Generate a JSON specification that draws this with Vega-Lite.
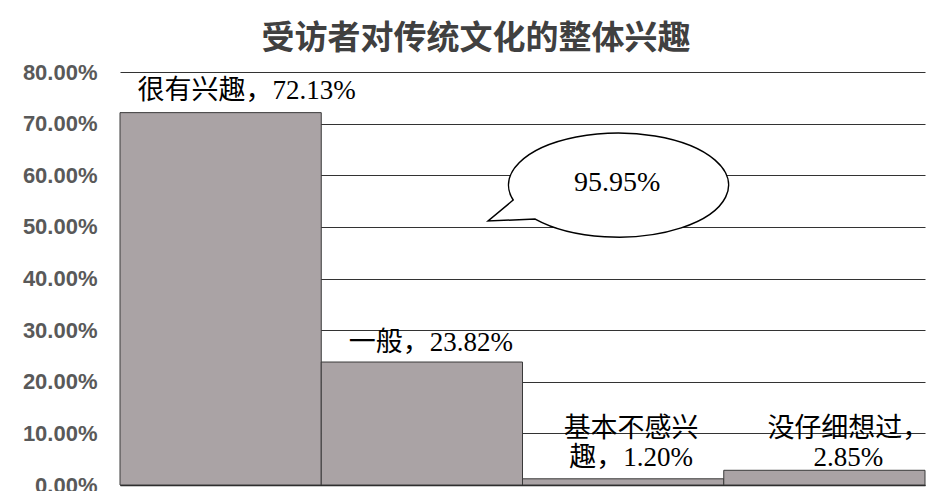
{
  "$schema": "https://vega.github.io/schema/vega-lite/v6.json",
  "width": 805,
  "height": 413,
  "autosize": "none",
  "padding": {"left": 120, "top": 72, "right": 6, "bottom": 6},
  "title": {
    "text": "受访者对传统文化的整体兴趣",
    "font": "Noto Sans CJK SC",
    "fontSize": 33,
    "fontWeight": "bold",
    "color": "#404040",
    "anchor": "middle",
    "frame": "bounds",
    "offset": 5
  },
  "config": {
    "view": {"stroke": null},
    "axisY": {
      "grid": true,
      "gridColor": "#333333",
      "gridWidth": 1,
      "domain": false,
      "ticks": false,
      "labelPadding": 23,
      "labelFont": "Liberation Sans",
      "labelFontWeight": "bold",
      "labelFontSize": 22,
      "labelColor": "#595959",
      "title": null
    },
    "axisX": {
      "labels": false,
      "ticks": false,
      "domain": true,
      "domainColor": "#222222",
      "domainWidth": 1.5,
      "title": null,
      "grid": false
    }
  },
  "data": {
    "values": [
      {"category": "很有兴趣", "value": 0.7213, "label": "很有兴趣，72.13%"},
      {"category": "一般", "value": 0.2382, "label": "一般，23.82%"},
      {"category": "基本不感兴趣", "value": 0.012, "label": "基本不感兴\n趣，1.20%"},
      {"category": "没仔细想过", "value": 0.0285, "label": "没仔细想过，\n2.85%"}
    ]
  },
  "encoding": {
    "x": {
      "field": "category",
      "type": "nominal",
      "sort": null,
      "scale": {"paddingInner": 0, "paddingOuter": 0}
    }
  },
  "layer": [
    {
      "mark": {"type": "bar", "fill": "#aaa3a5", "stroke": "#3a3a3a", "strokeWidth": 1},
      "encoding": {
        "y": {
          "field": "value",
          "type": "quantitative",
          "scale": {"domain": [0, 0.8]},
          "axis": {"values": [0, 0.1, 0.2, 0.3, 0.4, 0.5, 0.6, 0.7, 0.8], "format": ".2%"}
        }
      }
    },
    {
      "transform": [{"filter": "datum.category === '很有兴趣'"}],
      "mark": {"type": "text", "font": "'Liberation Serif', 'Noto Sans CJK SC'", "fontSize": 27, "color": "#000000", "baseline": "middle", "align": "center", "dx": 26, "dy": -22},
      "encoding": {
        "y": {"field": "value", "type": "quantitative"},
        "text": {"field": "label"}
      }
    },
    {
      "transform": [{"filter": "datum.category === '一般'"}],
      "mark": {"type": "text", "font": "'Liberation Serif', 'Noto Sans CJK SC'", "fontSize": 27, "color": "#000000", "baseline": "middle", "align": "center", "dx": 9, "dy": -19},
      "encoding": {
        "y": {"field": "value", "type": "quantitative"},
        "text": {"field": "label"}
      }
    },
    {
      "transform": [{"filter": "datum.category === '基本不感兴趣'"}],
      "mark": {"type": "text", "font": "'Liberation Serif', 'Noto Sans CJK SC'", "fontSize": 27, "color": "#000000", "baseline": "top", "align": "center", "lineBreak": "\n", "lineHeight": 29, "dx": 8},
      "encoding": {
        "y": {"datum": 0.134, "type": "quantitative"},
        "text": {"field": "label"}
      }
    },
    {
      "transform": [{"filter": "datum.category === '没仔细想过'"}],
      "mark": {"type": "text", "font": "'Liberation Serif', 'Noto Sans CJK SC'", "fontSize": 27, "color": "#000000", "baseline": "top", "align": "center", "lineBreak": "\n", "lineHeight": 29, "dx": 24},
      "encoding": {
        "y": {"datum": 0.134, "type": "quantitative"},
        "text": {"field": "label"}
      }
    },
    {
      "data": {"values": [{"category": "基本不感兴趣", "value": 0.581, "note": "95.95%"}]},
      "mark": {
        "type": "point",
        "shape": "M -0.945 0.136 L -1.173 0.327 L -0.745 0.309 A 1 0.473 0 1 0 -0.945 0.136 Z",
        "size": 48400,
        "filled": true,
        "fill": "#ffffff",
        "stroke": "#000000",
        "strokeWidth": 1.5,
        "opacity": 1,
        "xOffset": -6
      },
      "encoding": {
        "y": {"field": "value", "type": "quantitative"}
      }
    },
    {
      "data": {"values": [{"category": "基本不感兴趣", "value": 0.581, "note": "95.95%"}]},
      "mark": {"type": "text", "font": "'Liberation Serif'", "fontSize": 28, "color": "#000000", "baseline": "middle", "align": "center", "dx": -6, "dy": -2},
      "encoding": {
        "y": {"field": "value", "type": "quantitative"},
        "text": {"field": "note"}
      }
    }
  ]
}
